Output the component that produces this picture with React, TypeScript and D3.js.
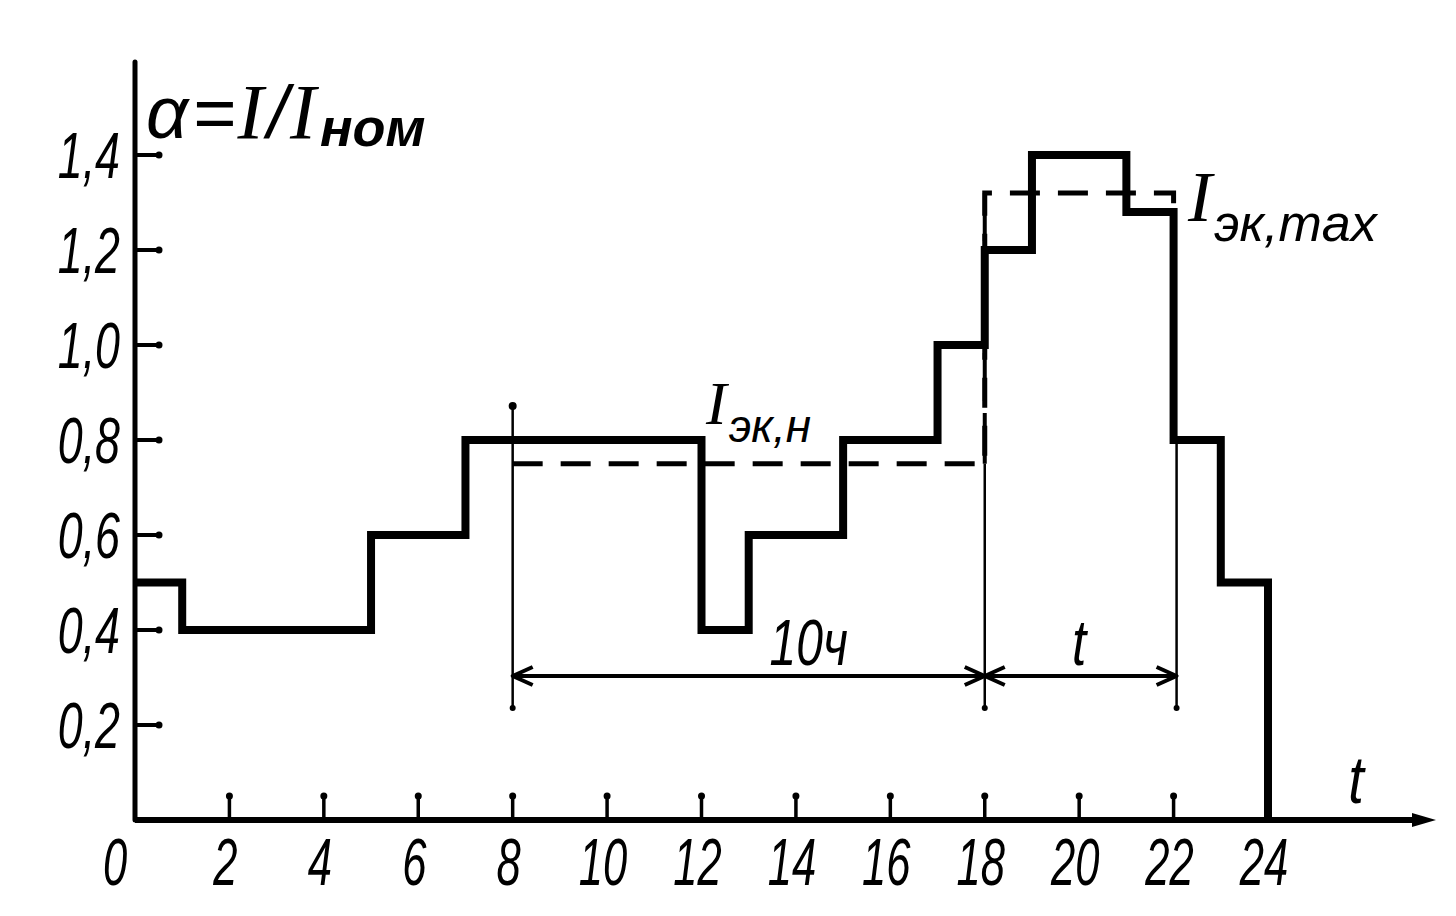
import React from "react";
import * as d3 from "d3";

// Hour boundaries of the load steps and the load level in each interval
const stepHours = [0, 1, 5, 7, 12, 13, 15, 17, 18, 19, 21, 22, 23, 24];
const stepLoads = [0.5, 0.4, 0.6, 0.8, 0.4, 0.6, 0.8, 1.0, 1.2, 1.4, 1.28, 0.8, 0.5];

const xTicks = [0, 2, 4, 6, 8, 10, 12, 14, 16, 18, 20, 22, 24];
const xTickLabels = ["0", "2", "4", "6", "8", "10", "12", "14", "16", "18", "20", "22", "24"];
const yTicks = [0.2, 0.4, 0.6, 0.8, 1.0, 1.2, 1.4];
const yTickLabels = ["0,2", "0,4", "0,6", "0,8", "1,0", "1,2", "1,4"];

// Equivalent currents
const iEqNormal = 0.75; // I_эк,н between 8 and 18 h
const iEqNormalSpan = [8, 18];
const iEqMax = 1.32; // I_эк,max between 18 and 22 h
const iEqMaxSpan = [18, 22];

// Dimension marks
const dimPoints = [8, 18, 22];
const dimLabels = ["10ч", "t"];

const W = 1456;
const H = 916;
const FONT = "'Liberation Sans', Arial, sans-serif";
const SERIF = "'Liberation Serif', 'DejaVu Serif', serif";

export default function App() {
  const x = d3.scaleLinear().domain([0, 24]).range([135, 1268]);
  const y = d3.scaleLinear().domain([0, 1.4]).range([820, 155]);

  const pts: [number, number][] = stepLoads.map((v, i) => [stepHours[i], v]);
  pts.push([24, stepLoads[stepLoads.length - 1]]);
  pts.push([24, 0]);
  const stepLine = d3
    .line<[number, number]>()
    .x((d) => x(d[0]))
    .y((d) => y(d[1]))
    .curve(d3.curveStepAfter)(pts) as string;

  const dashPts: [number, number][] = [
    [iEqNormalSpan[0], iEqNormal],
    [iEqNormalSpan[1], iEqNormal],
    [iEqMaxSpan[0], iEqMax],
    [iEqMaxSpan[1], iEqMax],
    [iEqMaxSpan[1], stepLoads[10]],
  ];
  const dashLine = d3
    .line<[number, number]>()
    .x((d) => x(d[0]))
    .y((d) => y(d[1]))(dashPts) as string;

  const axisX0 = x(0);
  const axisY0 = y(0);
  const dimY = 676;
  const dimBottom = 708;

  const arrow = (xa: number, dir: number) => {
    const l = 20;
    const h = 9;
    return `M${xa + dir * l},${dimY - h} L${xa},${dimY} L${xa + dir * l},${dimY + h}`;
  };

  return (
    <svg
      width={W}
      height={H}
      style={{ position: "absolute", left: 0, top: 0, background: "#fff" }}
      fontFamily={FONT}
    >
      <rect width={W} height={H} fill="#fff" />

      {/* Y axis */}
      <line x1={axisX0} y1={62} x2={axisX0} y2={axisY0} stroke="#000" strokeWidth={5} strokeLinecap="round" />
      {/* X axis */}
      <line x1={axisX0} y1={axisY0} x2={1425} y2={axisY0} stroke="#000" strokeWidth={6} />
      <path d={`M1412,${axisY0 - 7} L1436,${axisY0} L1412,${axisY0 + 7} Z`} fill="#000" />

      {/* Y ticks */}
      {yTicks.map((t, i) => (
        <g key={"yt" + i}>
          <line x1={axisX0} x2={x(0) + 24} y1={y(t)} y2={y(t)} stroke="#000" strokeWidth={4} />
          <circle cx={x(0) + 24} cy={y(t)} r={3.5} fill="#000" />
          <text
            transform={`translate(${120},${y(t) + 23}) scale(0.7,1)`}
            textAnchor="end"
            fontSize={64}
            fontStyle="italic"
            fill="#000"
          >
            {yTickLabels[i]}
          </text>
        </g>
      ))}

      {/* X ticks */}
      {xTicks.map((t, i) => (
        <g key={"xt" + i}>
          {t > 0 && t < 24 && (
            <>
              <line x1={x(t)} x2={x(t)} y1={axisY0} y2={axisY0 - 24} stroke="#000" strokeWidth={3.5} />
              <circle cx={x(t)} cy={axisY0 - 24} r={3.5} fill="#000" />
            </>
          )}
          <text
            transform={`translate(${x(t) - (t === 0 ? 20 : 4)},${885}) scale(0.66,1)`}
            textAnchor="middle"
            fontSize={66}
            fontStyle="italic"
            fill="#000"
          >
            {xTickLabels[i]}
          </text>
        </g>
      ))}

      {/* Dimension verticals */}
      <line x1={x(dimPoints[0])} x2={x(dimPoints[0])} y1={406} y2={dimBottom} stroke="#000" strokeWidth={2.5} />
      <circle cx={x(dimPoints[0])} cy={406} r={4} fill="#000" />
      <line x1={x(dimPoints[1])} x2={x(dimPoints[1])} y1={y(iEqNormal)} y2={dimBottom} stroke="#000" strokeWidth={2.5} />
      <line x1={x(dimPoints[2]) + 3} x2={x(dimPoints[2]) + 3} y1={y(0.8)} y2={dimBottom} stroke="#000" strokeWidth={2.5} />
      {dimPoints.map((p, i) => (
        <circle key={"db" + i} cx={x(p) + (i === 2 ? 3 : 0)} cy={dimBottom} r={3} fill="#000" />
      ))}

      {/* Dimension lines */}
      <line x1={x(dimPoints[0])} x2={x(dimPoints[1])} y1={dimY} y2={dimY} stroke="#000" strokeWidth={4} />
      <line x1={x(dimPoints[1])} x2={x(dimPoints[2]) + 3} y1={dimY} y2={dimY} stroke="#000" strokeWidth={4} />
      <path d={arrow(x(dimPoints[0]), 1)} fill="none" stroke="#000" strokeWidth={4} strokeLinejoin="round" />
      <path d={arrow(x(dimPoints[1]), -1)} fill="none" stroke="#000" strokeWidth={4} strokeLinejoin="round" />
      <path d={arrow(x(dimPoints[1]), 1)} fill="none" stroke="#000" strokeWidth={4} strokeLinejoin="round" />
      <path d={arrow(x(dimPoints[2]) + 3, -1)} fill="none" stroke="#000" strokeWidth={4} strokeLinejoin="round" />
      <text
        transform={`translate(${(x(dimPoints[0]) + x(dimPoints[1])) / 2 + 60},${665}) scale(0.75,1)`}
        textAnchor="middle"
        fontSize={64}
        fontStyle="italic"
        fill="#000"
      >
        {dimLabels[0]}
      </text>
      <text
        transform={`translate(${(x(dimPoints[1]) + x(dimPoints[2])) / 2},${665}) scale(0.8,1)`}
        textAnchor="middle"
        fontSize={64}
        fontStyle="italic"
        fill="#000"
      >
        {dimLabels[1]}
      </text>

      {/* Equivalent current dashed lines */}
      <path d={dashLine} fill="none" stroke="#000" strokeWidth={5} strokeDasharray="30 18" />
      <line
        x1={x(iEqMaxSpan[0])}
        x2={x(iEqMaxSpan[0])}
        y1={y(iEqMax)}
        y2={y(iEqNormal)}
        stroke="#000"
        strokeWidth={4}
        strokeDasharray="48 12 90 10"
      />

      {/* Load step curve */}
      <path d={stepLine} fill="none" stroke="#000" strokeWidth={8} strokeLinejoin="miter" />

      {/* Title */}
      <text x={146} y={138} fontSize={74} fontStyle="italic" fill="#000">
        <tspan>α</tspan>
        <tspan dx={4}>=</tspan>
        <tspan fontFamily={SERIF} fontSize={78} dx={2}>I</tspan>
        <tspan dx={4}>/</tspan>
        <tspan fontFamily={SERIF} fontSize={78} dx={2}>I</tspan>
        <tspan dy={8} dx={4} fontSize={54} fontWeight="bold">ном</tspan>
      </text>

      {/* I_эк,н label */}
      <text x={706} y={424} fontSize={62} fontStyle="italic" fill="#000">
        <tspan fontFamily={SERIF}>I</tspan>
        <tspan dy={18} dx={2} fontSize={46}>эк,н</tspan>
      </text>

      {/* I_эк,max label */}
      <text x={1188} y={221} fontSize={72} fontStyle="italic" fill="#000">
        <tspan fontFamily={SERIF}>I</tspan>
        <tspan dy={20} dx={2} fontSize={52}>эк,max</tspan>
      </text>

      {/* axis t label */}
      <text transform={`translate(1356,803) scale(0.85,1)`} textAnchor="middle" fontSize={66} fontStyle="italic" fill="#000">
        t
      </text>
    </svg>
  );
}
